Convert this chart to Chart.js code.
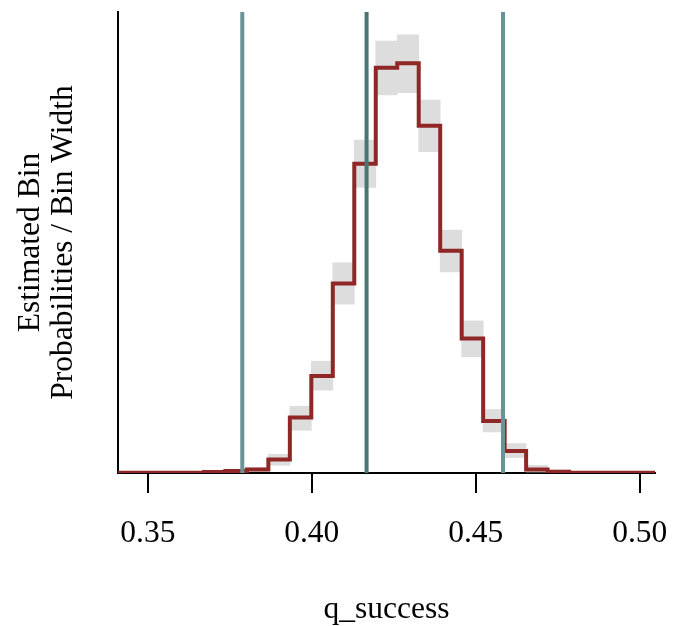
<!DOCTYPE html>
<html><head><meta charset="utf-8">
<script src="https://cdn.jsdelivr.net/npm/chart.js@4/dist/chart.umd.min.js"></script>
<style>html,body{margin:0;padding:0;background:#fff}#wrap{width:673px;height:626px}</style>
</head><body><div id="wrap"><canvas id="c" width="673" height="626"></canvas></div>
<script>
// Histogram bin edges (q_success)
const binEdges = [0.34090, 0.34745, 0.35400, 0.36055, 0.36710, 0.37365, 0.38020, 0.38675,
  0.39330, 0.39985, 0.40640, 0.41295, 0.41950, 0.42605, 0.43260, 0.43915, 0.44570,
  0.45225, 0.45880, 0.46535, 0.47190, 0.47845, 0.48500, 0.49155, 0.49810, 0.50465];
// Estimated bin probabilities / bin width (median)
const binDensity = [0.01, 0.01, 0.01, 0.01, 0.07, 0.13, 0.23, 0.90, 3.73, 6.53, 12.75, 20.80,
  27.25, 27.55, 23.35, 14.94, 9.04, 3.50, 1.48, 0.23, 0.09, 0.02, 0.02, 0.02, 0.02];
// Uncertainty band per bin
const bandLow = [0.00, 0.00, 0.00, 0.00, 0.03, 0.07, 0.12, 0.52, 2.87, 5.57, 11.35, 19.21,
  25.42, 25.57, 21.60, 13.53, 7.81, 2.76, 1.04, 0.07, 0.02, 0.00, 0.00, 0.00, 0.00];
const bandHigh = [0.03, 0.03, 0.03, 0.03, 0.11, 0.19, 0.36, 1.26, 4.49, 7.52, 14.13, 22.39,
  29.05, 29.47, 25.08, 16.33, 10.23, 4.27, 1.98, 0.52, 0.20, 0.05, 0.05, 0.05, 0.05];
// Vertical reference lines
const markerLines = [0.3788, 0.4167, 0.4583];
const markerColors = ['#6b9393', '#487575', '#6b9393'];
const xTickValues = [0.35, 0.40, 0.45, 0.50];
const xTitle = 'q_success';
const yTitle = ['Estimated Bin', 'Probabilities / Bin Width'];
const yMax = 31;

Chart.defaults.font.family = "'Liberation Serif', 'Times New Roman', serif";
Chart.defaults.color = '#000';

const nBins = binDensity.length;
const stepData = binEdges.map((x, i) => ({x: x, y: binDensity[Math.min(i, nBins - 1)]}));
const bandData = binDensity.map((_, i) => ({x: (binEdges[i] + binEdges[i + 1]) / 2, y: [bandLow[i], bandHigh[i]]}));

const datasets = [];
markerLines.forEach((v, i) => {
  datasets.push({
    type: 'line', data: [{x: v, y: 0}, {x: v, y: yMax}],
    borderColor: markerColors[i], borderWidth: 4, pointRadius: 0, borderCapStyle: 'butt', order: 0, clip: false
  });
});
datasets.push({
  type: 'line', data: stepData, stepped: 'before',
  borderColor: '#8f2727', borderWidth: 4, pointRadius: 0, borderJoinStyle: 'miter', borderCapStyle: 'butt', order: 1
});
datasets.push({
  type: 'bar', data: bandData, backgroundColor: '#dddddd', borderWidth: 0,
  barPercentage: 1.0, categoryPercentage: 1.0, grouped: false, order: 2
});

new Chart(document.getElementById('c'), {
  type: 'line',
  data: {datasets: datasets},
  options: {
    responsive: false, animation: false, devicePixelRatio: 1,
    layout: {padding: {top: 12, right: 18, left: 0, bottom: 0}},
    plugins: {legend: {display: false}, tooltip: {enabled: false}},
    scales: {
      x: {
        type: 'linear', position: 'bottom', min: binEdges[0], max: binEdges[binEdges.length - 1], offset: false,
        afterBuildTicks: s => { s.ticks = xTickValues.map(v => ({value: v})); },
        afterFit: s => { s.height = 153; s.paddingLeft = 0; s.paddingRight = 0; },
        ticks: {callback: v => Number(v).toFixed(2), font: {size: 31.5}, padding: 22, maxRotation: 0, autoSkip: false, color: '#000'},
        grid: {display: true, drawOnChartArea: false, drawTicks: true, tickLength: 20, color: '#000', lineWidth: 2, offset: false},
        border: {display: true, color: '#000', width: 2},
        title: {display: true, text: xTitle, font: {size: 31.5}, padding: {top: 0, bottom: -3}, color: '#000'}
      },
      y: {
        type: 'linear', min: 0, max: yMax,
        afterFit: s => { s.width = 118; s.paddingTop = 0; s.paddingBottom = 0; },
        ticks: {display: false},
        grid: {display: false, drawTicks: false},
        border: {display: true, color: '#000', width: 2},
        title: {display: true, text: yTitle, font: {size: 31.5, lineHeight: 1.05}, padding: {top: 14, bottom: 0}, color: '#000'}
      }
    }
  }
});
</script></body></html>
